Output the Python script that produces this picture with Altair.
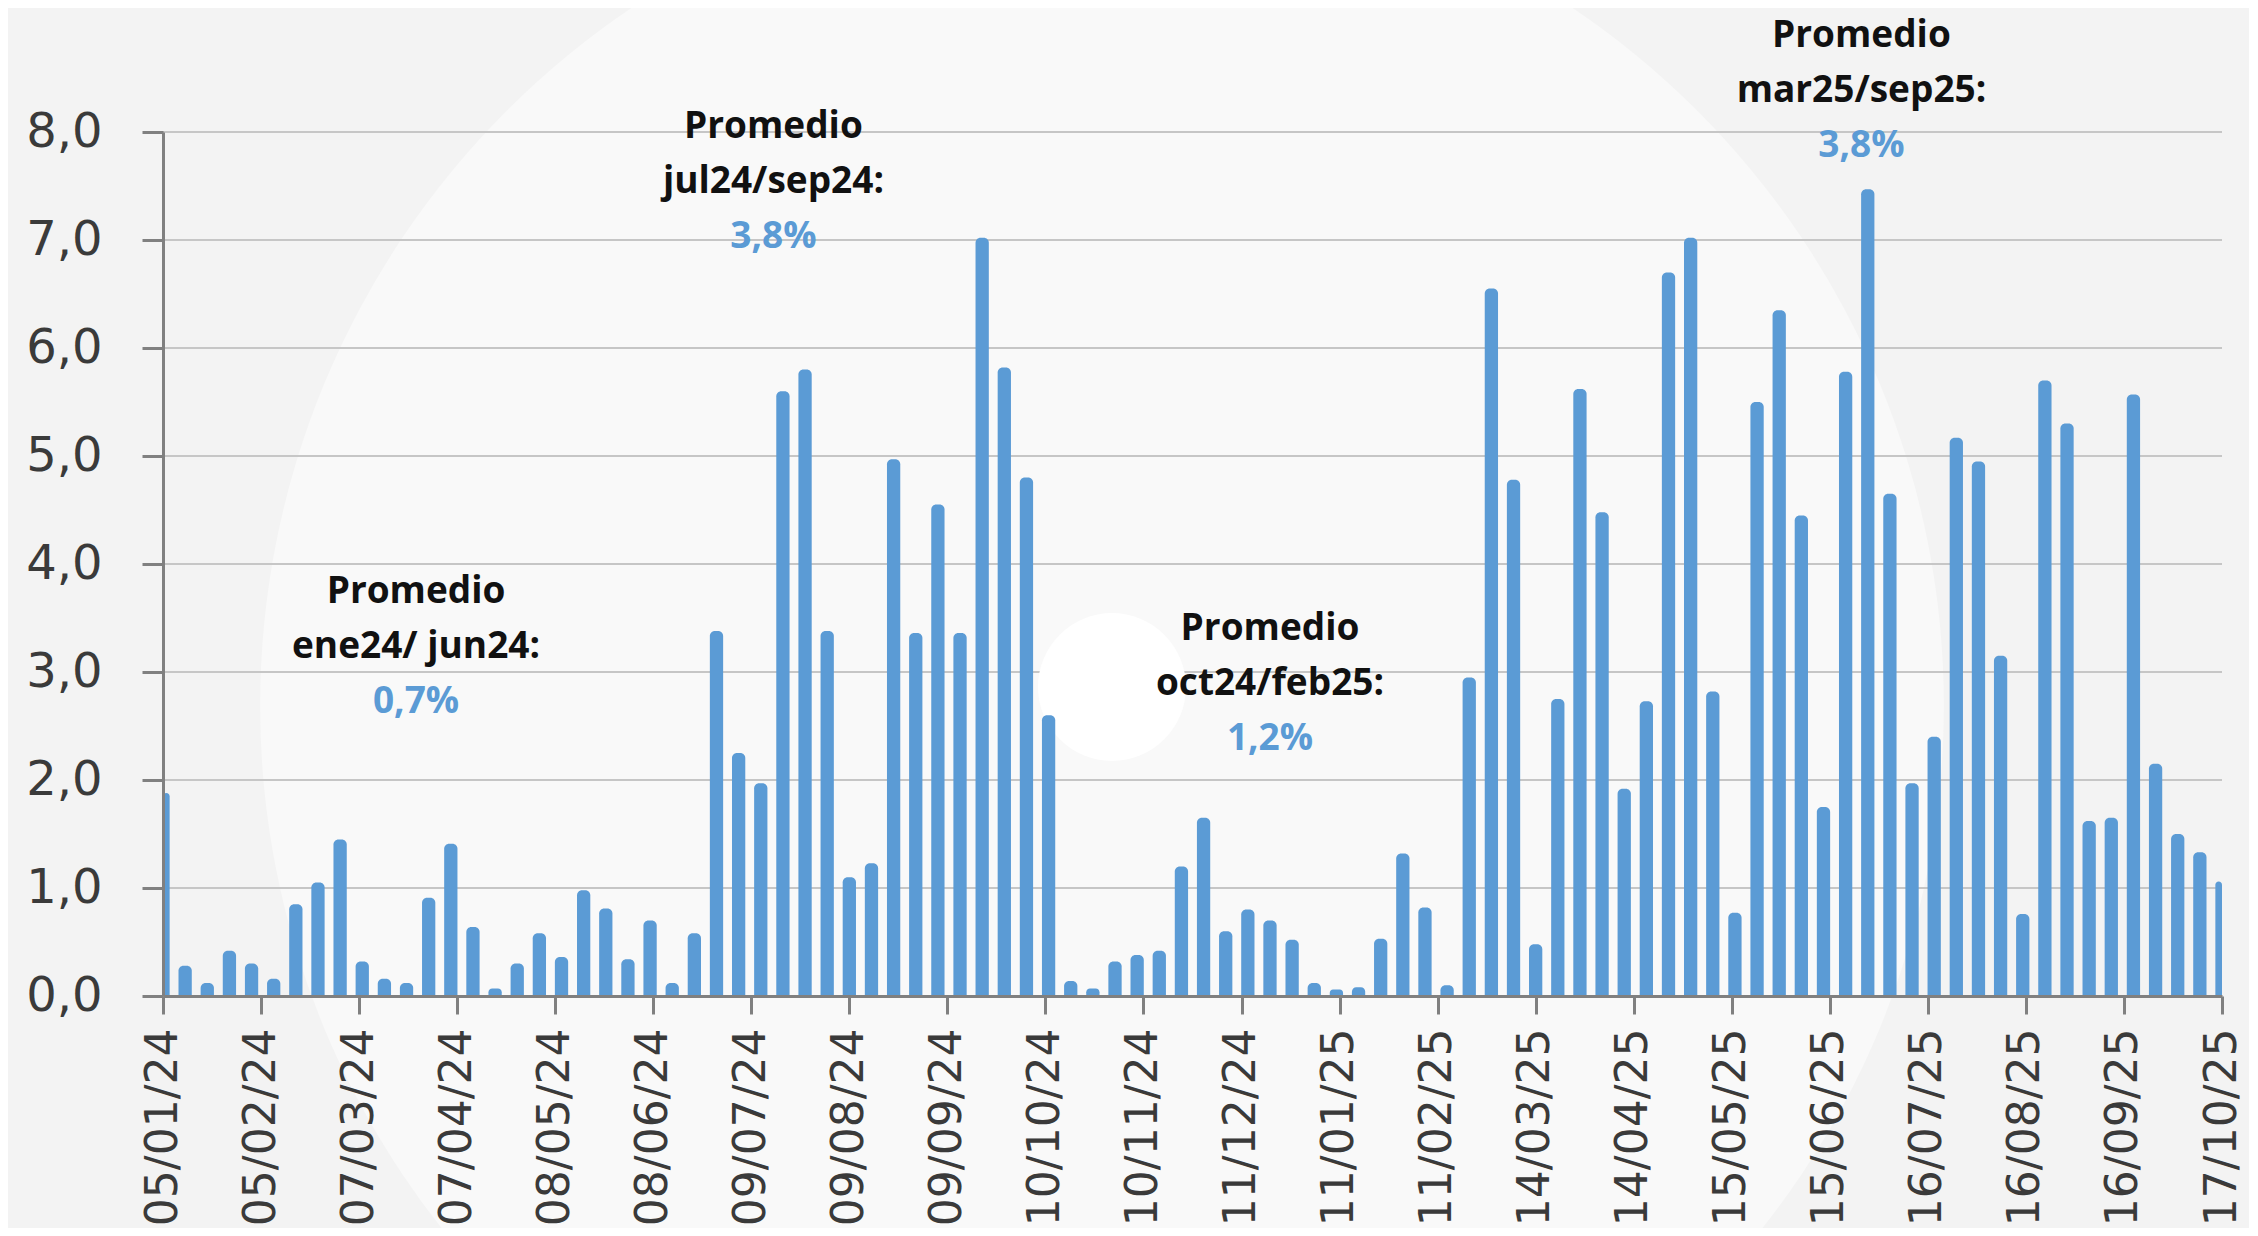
import altair as alt
import pandas as pd

# ---------------- data ----------------
inicio = "2024-01-05"  # first weekly observation
valores = [1.88, 0.28, 0.12, 0.42, 0.30, 0.16, 0.85, 1.05, 1.45, 0.32,
           0.16, 0.12, 0.91, 1.41, 0.64, 0.07, 0.30, 0.58, 0.36, 0.98,
           0.81, 0.34, 0.70, 0.12, 0.58, 3.38, 2.25, 1.97, 5.60, 5.80,
           3.38, 1.10, 1.23, 4.97, 3.36, 4.55, 3.36, 7.02, 5.82, 4.80,
           2.60, 0.14, 0.07, 0.32, 0.38, 0.42, 1.20, 1.65, 0.60, 0.80,
           0.70, 0.52, 0.12, 0.06, 0.08, 0.53, 1.32, 0.82, 0.10, 2.95,
           6.55, 4.78, 0.48, 2.75, 5.62, 4.48, 1.92, 2.73, 6.70, 7.02,
           2.82, 0.77, 5.50, 6.35, 4.45, 1.75, 5.78, 7.47, 4.65, 1.97,
           2.40, 5.17, 4.95, 3.15, 0.76, 5.70, 5.30, 1.62, 1.65, 5.57,
           2.15, 1.50, 1.33, 1.06]

etiquetas_x = ["05/01/24", "05/02/24", "07/03/24", "07/04/24", "08/05/24",
               "08/06/24", "09/07/24", "09/08/24", "09/09/24", "10/10/24",
               "10/11/24", "11/12/24", "11/01/25", "11/02/25", "14/03/25",
               "14/04/25", "15/05/25", "15/06/25", "16/07/25", "16/08/25",
               "16/09/25", "17/10/25"]
marcas_y = [0, 1, 2, 3, 4, 5, 6, 7, 8]

ann_fechas = ["2024-03-25", "2024-07-16", "2024-12-20", "2025-06-25"]
ann_alturas = [3.74, 8.05, 3.40, 8.89]
ann_titulo = ["Promedio", "Promedio", "Promedio", "Promedio"]
ann_periodos = ["ene24/ jun24:", "jul24/sep24:", "oct24/feb25:", "mar25/sep25:"]
ann_promedios = ["0,7%", "3,8%", "1,2%", "3,8%"]

# ---------------- tables ----------------
def ms(ts):
    return int(pd.Timestamp(ts).value // 10**6)

fechas = pd.date_range(inicio, periods=len(valores), freq="7D")
df = pd.DataFrame({"fecha": [ms(f) for f in fechas], "valor": valores})

tick_ms = [ms(pd.to_datetime(t, format="%d/%m/%y")) for t in etiquetas_x]
dom_x = [tick_ms[0], tick_ms[-1]]

grid_df = pd.DataFrame({"valor": marcas_y[1:]})
ann_df = pd.DataFrame({
    "fecha": [ms(f) for f in ann_fechas],
    "valor": ann_alturas,
    "titulo": ann_titulo,
    "periodo": ann_periodos,
    "promedio": ann_promedios,
})

AXIS_GREY = "#808080"
LABEL = "#3a3a3a"
BLUE = "#5B9BD5"
HALF_BAR_MS = 2.1 * 86400000  # half of the bar's thickness, in time units

x_scale = alt.Scale(type="utc", domain=dom_x, nice=False)
y_scale = alt.Scale(domain=[0, 8], nice=False)

x_axis = alt.Axis(
    values=tick_ms,
    labelExpr="utcFormat(datum.value, '%d/%m/%y')",
    labelAngle=270,
    labelFont="DejaVu Sans",
    labelFontSize=44,
    labelColor=LABEL,
    labelPadding=14,
    labelFlush=False,
    labelOverlap=False,
    labelBound=False,
    labelLimit=0,
    tickSize=18,
    tickWidth=3,
    tickColor=AXIS_GREY,
    domainColor=AXIS_GREY,
    domainWidth=3,
    grid=False,
    title=None,
    zindex=1,
)
y_axis = alt.Axis(
    values=marcas_y,
    labelExpr="replace(format(datum.value, '.1f'), '.', ',')",
    labelFont="DejaVu Sans",
    labelFontSize=48,
    labelColor=LABEL,
    labelPadding=40,
    tickSize=21,
    tickWidth=3,
    tickColor=AXIS_GREY,
    domainColor=AXIS_GREY,
    domainWidth=3,
    grid=False,
    title=None,
    zindex=1,
)

x_enc = alt.X("fecha:T", scale=x_scale, axis=x_axis)
y_enc = alt.Y("valor:Q", scale=y_scale, axis=y_axis)

# decorative background shapes
big_circle = alt.Chart(alt.Data(values=[{"k": 1}])).mark_point(
    shape="circle", filled=True, opacity=1, color="#f9f9f9", strokeWidth=0
).encode(x=alt.value(939), y=alt.value(574), size=alt.value(2835000))

small_circle = alt.Chart(alt.Data(values=[{"k": 2}])).mark_point(
    shape="circle", filled=True, opacity=1, color="#ffffff", strokeWidth=0
).encode(x=alt.value(949), y=alt.value(555), size=alt.value(21900))

grid = alt.Chart(grid_df).mark_rule(color="#c6c6c6", strokeWidth=2).encode(y=y_enc)

bars = alt.Chart(df).transform_calculate(
    x0=f"max(datum.fecha - {HALF_BAR_MS}, {dom_x[0]})",
    x1=f"min(datum.fecha + {HALF_BAR_MS}, {dom_x[1]})",
).mark_bar(
    color=BLUE, cornerRadiusTopLeft=5, cornerRadiusTopRight=5,
).encode(
    x=alt.X("x0:T", scale=x_scale, axis=x_axis),
    x2="x1:T",
    y=alt.Y("valor:Q", scale=y_scale, axis=y_axis, stack=None),
    y2=alt.datum(0),
)

base_txt = alt.Chart(ann_df)
t1 = base_txt.mark_text(font="Open Sans", fontWeight="bold", fontSize=37,
                        color="#111111", baseline="middle", dy=0).encode(
    x=x_enc, y=y_enc, text="titulo:N")
t2 = base_txt.mark_text(font="Open Sans", fontWeight="bold", fontSize=37,
                        color="#111111", baseline="middle", dy=55).encode(
    x=x_enc, y=y_enc, text="periodo:N")
t3 = base_txt.mark_text(font="Open Sans", fontWeight="bold", fontSize=37,
                        color=BLUE, baseline="middle", dy=110).encode(
    x=x_enc, y=y_enc, text="promedio:N")

chart = alt.layer(big_circle, grid, small_circle, bars, t1, t2, t3).properties(
    width=2059,
    height=864,
    autosize=alt.AutoSizeParams(type="none"),
    padding={"left": 155, "top": 124, "right": 27, "bottom": 232},
).configure(background="#f3f3f3").configure_view(stroke=None)

chart.save("out.html", embed_options={"renderer": "svg", "actions": False})
